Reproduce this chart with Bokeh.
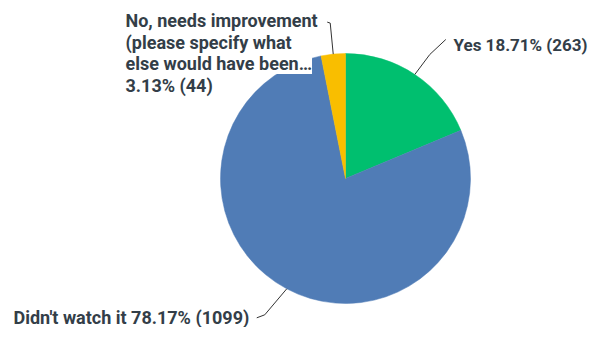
import math
from bokeh.plotting import figure
from bokeh.models import Range1d
from bokeh.core.properties import value
from bokeh.embed import file_html
from bokeh.resources import INLINE

# ---- data ----
categories = ["Yes", "Didn't watch it", "No, needs improvement (please specify what else would have been…"]
percents = [18.71, 78.17, 3.13]
counts = [263, 1099, 44]
colors = ["#00BF6F", "#507CB6", "#F9BE00"]

W, H = 588, 327
TOP = 343
p = figure(width=W, height=H, output_backend="svg", toolbar_location=None,
           x_range=Range1d(0, W), y_range=Range1d(TOP - H, TOP),
           x_axis_location=None, y_axis_location=None, min_border=0,
           outline_line_color=None)
p.grid.visible = False
p.background_fill_color = "white"
p.border_fill_color = "white"

cx, cy, r = 345, TOP - 178, 125
total = sum(percents)
starts, ends, mids = [], [], []
cum = 0.0
for v in percents:
    a0 = math.pi / 2 - 2 * math.pi * cum / total
    cum += v
    a1 = math.pi / 2 - 2 * math.pi * cum / total
    starts.append(a0)
    ends.append(a1)
    mids.append((a0 + a1) / 2)

p.wedge(x=[cx] * 3, y=[cy] * 3, radius=r, start_angle=starts, end_angle=ends,
        direction="clock", fill_color=colors, line_color=colors, line_width=0.5)

FONT = value("Roboto")
TC = "#333e48"
LC = "#333333"

def edge(i):
    return cx + r * math.cos(mids[i]), cy + r * math.sin(mids[i])

# Yes leader + label
ex, ey = edge(0)
p.line(x=[ex, ex + 15, ex + 31], y=[ey, ey + 20, ey + 35], line_color=LC, line_width=1)
p.text(x=[453], y=[TOP - 44], text=[f"{categories[0]} {percents[0]:.2f}% ({counts[0]})"],
       text_font=FONT, text_font_style="bold", text_font_size="17px", text_color=TC,
       text_baseline="middle", text_align="left")

# Didn't watch leader + label
ex, ey = edge(1)
p.line(x=[ex, ex - 22, ex - 30], y=[ey, ey - 26, ey - 29], line_color=LC, line_width=1)
p.text(x=[13], y=[TOP - 317], text=[f"{categories[1]} {percents[1]:.2f}% ({counts[1]})"],
       text_font=FONT, text_font_style="bold", text_font_size="18px", text_color=TC,
       text_baseline="middle", text_align="left")

# No leader + label
ex, ey = edge(2)
p.line(x=[ex, ex - 3, ex - 6], y=[ey, ey + 31, ey + 32], line_color=LC, line_width=1)
no_lines = ["No, needs improvement", "(please specify what", "else would have been…",
            f"{percents[2]:.2f}% ({counts[2]})"]
line_centers = [20, 42, 63, 85]
for t, yc in zip(no_lines, line_centers):
    p.text(x=[125], y=[TOP - yc], text=[t], text_font=FONT, text_font_style="bold",
           text_font_size="18px", text_color=TC, text_baseline="middle", text_align="left",
           background_fill_color="white")

open("out.html", "w").write(file_html(p, INLINE))
